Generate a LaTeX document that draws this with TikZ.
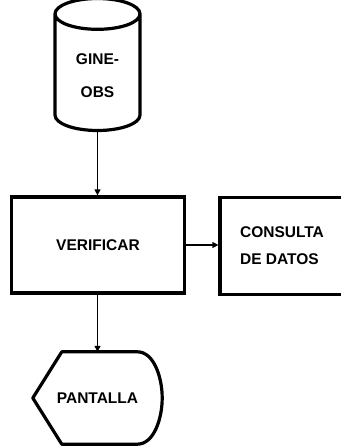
\documentclass[tikz,border=0pt]{standalone}
\usepackage{fontspec}
\setmainfont{Liberation Sans}
\usetikzlibrary{shapes.geometric,arrows.meta}

\begin{document}
\begin{tikzpicture}[x=1pt,y=-1pt,
    every node/.style={font=\bfseries\fontsize{15.5}{27}\selectfont},
    box/.style={draw, line width=3.2pt, align=center},
    arr/.style={-{Triangle[length=6pt,width=6pt]}, line width=1.2pt}]
    \useasboundingbox (0,0) rectangle (340,446);

    \node[cylinder, shape border rotate=90, draw, line width=3.2pt, aspect=0.62,
      minimum width=85pt, minimum height=132pt, align=center] (gine) at (97.5,76)
      {GINE-\\[6pt]OBS};
    \node[box, minimum width=173pt, minimum height=96pt] (verif) at (98,245)
      {VERIFICAR};
    \node[box, minimum width=124pt, minimum height=97pt, align=left] (cons) at (282,246)
      {CONSULTA\\DE DATOS};
    \node[minimum width=129pt, minimum height=92pt] (pant) at (97.5,398)
      {PANTALLA};
    \draw[line width=3.2pt, line join=round]
      (pant.west) -- ([xshift=29pt]pant.north west) -- ([xshift=-25pt]pant.north east)
      .. controls ([xshift=-8pt]pant.north east) and ([yshift=20pt]pant.east) .. (pant.east)
      .. controls ([yshift=-20pt]pant.east) and ([xshift=-8pt]pant.south east) .. ([xshift=-25pt]pant.south east)
      -- ([xshift=29pt]pant.south west) -- cycle;

    \draw[arr] (gine.south) -- (gine.south |- verif.north);
    \draw[arr] (verif.east) -- (cons.west |- verif.east);
    \draw[arr] (verif.south -| pant.north) -- (pant.north);
\end{tikzpicture}
\end{document}
